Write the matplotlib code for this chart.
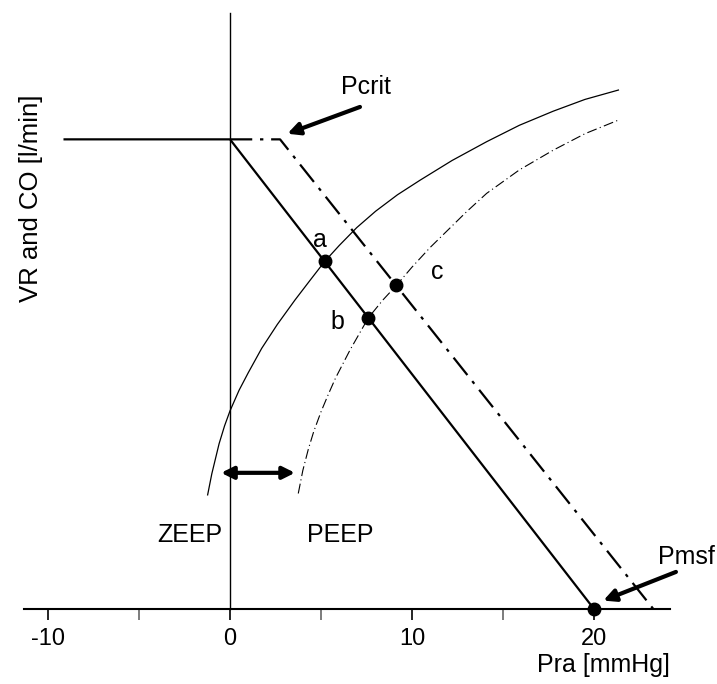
import matplotlib
matplotlib.use("Agg")
import matplotlib.pyplot as plt
import numpy as np

plt.rcParams['font.family'] = ['Liberation Sans', 'DejaVu Sans']
plt.rcParams['axes.unicode_minus'] = False

# venous return curves (Pra, flow): ZEEP and PEEP
vr_x = [-9.15, 0.0, 20.0]
vr_y = [10.0, 10.0, 0.0]
vr_peep_x = [0.0, 2.75, 23.26]
vr_peep_y = [10.0, 10.0, 0.0]

# cardiac function curves
co_x = [-1.23, -1.0, -0.6, -0.3, 0.0, 0.5, 1.0, 1.74, 2.6, 3.57, 4.4, 5.2, 6.0,
        6.96, 8.0, 9.2, 10.44, 12.2, 14.1, 15.9, 17.76, 19.5, 21.34]
co_y = [2.43, 2.88, 3.52, 3.90, 4.22, 4.66, 5.03, 5.55, 6.06, 6.58, 7.0, 7.40, 7.74,
        8.12, 8.47, 8.82, 9.13, 9.55, 9.95, 10.30, 10.60, 10.85, 11.05]
co_peep_x = [3.75, 4.0, 4.3, 4.6, 5.0, 5.4, 5.8, 6.6, 7.6, 8.4, 9.14, 10.0, 11.0,
             12.0, 13.0, 14.1, 15.9, 17.76, 19.5, 21.34]
co_peep_y = [2.46, 2.95, 3.40, 3.78, 4.20, 4.57, 4.92, 5.52, 6.20, 6.58, 6.89, 7.28, 7.70,
             8.08, 8.46, 8.85, 9.35, 9.77, 10.12, 10.41]

# equilibrium points
pt_labels = ['a', 'b', 'c']
pt_x = [5.2, 7.6, 9.14]
pt_y = [7.40, 6.20, 6.89]
pmsf = 20.0

fig = plt.figure(figsize=(7.17, 6.84), dpi=100)
ax = fig.add_axes([0.0332, 0.1096, 0.9014, 0.8858])
ax.set_xlim(-11.33, 24.18)
ax.set_ylim(0, 12.9)

for s in ['left', 'top', 'right']:
    ax.spines[s].set_visible(False)
ax.spines['bottom'].set_linewidth(1.5)
ax.set_yticks([])
ax.set_xticks([-10, 0, 10, 20])
ax.set_xticks([-5, 5, 15], minor=True)
ax.tick_params(axis='x', which='both', direction='out', length=8, width=1.2, labelsize=17, pad=6)
ax.tick_params(axis='x', which='minor', color='0.4')

ax.plot([0, 0], [0, 12.68], color='black', lw=1.0, clip_on=False)

ax.plot(vr_x, vr_y, color='black', lw=1.6, solid_capstyle='butt')
ax.plot(vr_peep_x, vr_peep_y, color='black', lw=1.6, dashes=(10, 3.5, 1.5, 3.5))
ax.plot(co_x, co_y, color='black', lw=0.9)
ax.plot(co_peep_x, co_peep_y, color='black', lw=0.8, dashes=(9, 3, 1, 3))

ax.plot(pt_x, pt_y, 'o', color='black', ms=9)
ax.plot([pmsf], [0], 'o', color='black', ms=9, clip_on=False)

ax.text(4.95, 7.86, pt_labels[0], fontsize=18, ha='center', va='center')
ax.text(5.9, 6.11, pt_labels[1], fontsize=18, ha='center', va='center')
ax.text(11.4, 7.17, pt_labels[2], fontsize=18, ha='center', va='center')

arrow = dict(arrowstyle='-|>', color='black', lw=3, mutation_scale=18, shrinkA=0, shrinkB=0)
ax.annotate('', xy=(3.15, 10.12), xytext=(7.14, 10.69), arrowprops=arrow)
ax.text(7.47, 11.11, 'Pcrit', fontsize=18, ha='center', va='center')
ax.annotate('', xy=(20.51, 0.18), xytext=(24.5, 0.79), arrowprops=arrow, annotation_clip=False)
ax.text(25.05, 1.11, 'Pmsf', fontsize=18, ha='center', va='center', clip_on=False)

ax.annotate('', xy=(-0.49, 2.90), xytext=(3.57, 2.90),
            arrowprops=dict(arrowstyle='<|-|>', color='black', lw=3, mutation_scale=18,
                            shrinkA=0, shrinkB=0))
ax.text(-2.2, 1.58, 'ZEEP', fontsize=18, ha='center', va='center')
ax.text(6.06, 1.58, 'PEEP', fontsize=18, ha='center', va='center')

ax.text(24.18, -1.2, 'Pra [mmHg]', fontsize=18, ha='right', va='center')
ax.text(-10.93, 8.75, 'VR and CO [l/min]', fontsize=18.5, ha='center', va='center', rotation=90)

fig.savefig('out.png', dpi=100)
